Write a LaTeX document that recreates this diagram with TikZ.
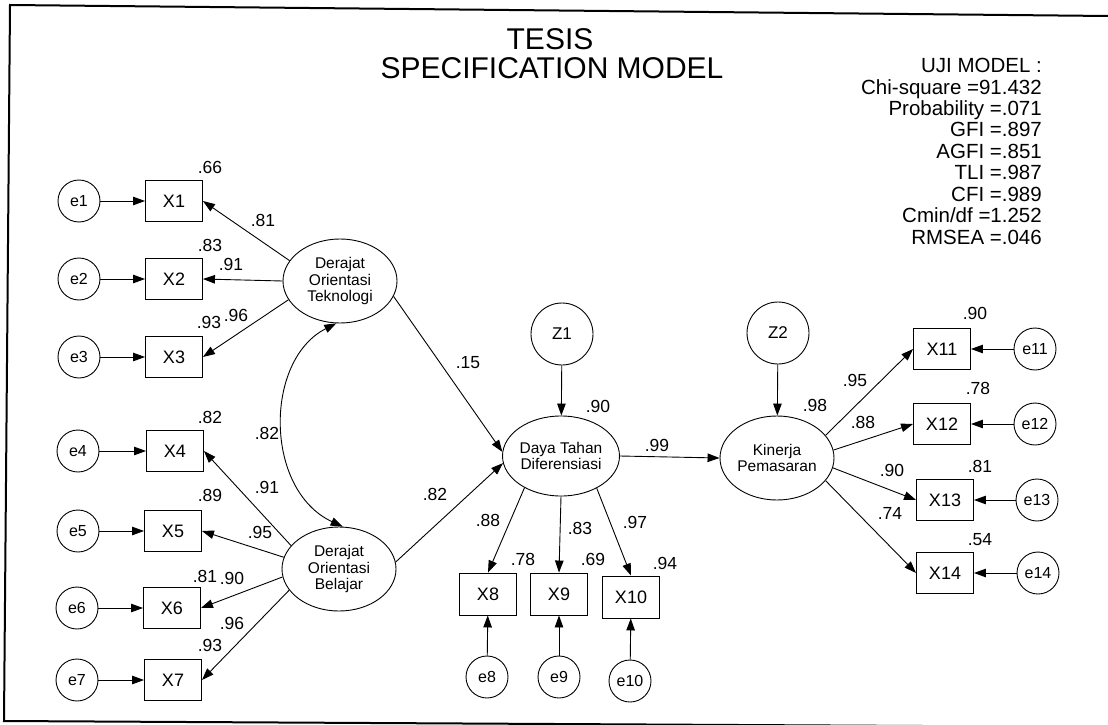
\documentclass[tikz,border=0pt]{standalone}
\usepackage{fontspec}
\setmainfont{Liberation Sans}
\usetikzlibrary{arrows.meta,shapes.geometric}
\begin{document}
\begin{tikzpicture}[x=1pt,y=-1pt,
  obs/.style={draw, line width=0.9pt, rectangle, minimum width=57pt, minimum height=41pt, inner sep=0pt, font=\fontsize{18}{20}\selectfont},
  err/.style={draw, line width=0.9pt, circle, minimum size=42pt, inner sep=0pt, font=\fontsize{16}{18}\selectfont},
  lat/.style={draw, line width=0.9pt, ellipse, minimum width=114pt, minimum height=84pt, inner sep=0pt, align=center, font=\fontsize{15.5}{16.5}\selectfont},
  dist/.style={draw, line width=0.9pt, circle, minimum size=62pt, inner sep=0pt, font=\fontsize{17}{19}\selectfont},
  coef/.style={inner sep=0pt, font=\fontsize{17.5}{19}\selectfont},
  stat/.style={inner sep=0pt, anchor=base east, font=\fontsize{20.5}{22}\selectfont},
  ttl/.style={inner sep=0pt, anchor=base, font=\fontsize{30}{32}\selectfont},
  arr/.style={line width=0.9pt, -{Triangle[length=12pt,width=8.5pt]}},
  darr/.style={line width=0.9pt, {Triangle[length=12pt,width=8.5pt]}-{Triangle[length=12pt,width=8.5pt]}}
]
\useasboundingbox (0,0) rectangle (1108,725);
% frame
\coordinate (fTR) at (1108,16);
\coordinate (fTL) at (10,5);
\coordinate (fBL) at (4,721);
\coordinate (fBR) at (1108,727);
\draw[line width=2pt] (fTR) -- (fTL) -- (fBL) -- (fBR);

% title
\node[ttl] (t1) at (550,49) {TESIS};
\node[ttl] (t2) at (552,78) {SPECIFICATION MODEL};

% stats
\node[stat] (s1) at (1042,72) {UJI MODEL :};
\node[stat] (s2) at (1042,94) {Chi-square =91.432};
\node[stat] (s3) at (1042,115) {Probability =.071};
\node[stat] (s4) at (1042,136) {GFI =.897};
\node[stat] (s5) at (1042,158) {AGFI =.851};
\node[stat] (s6) at (1042,179) {TLI =.987};
\node[stat] (s7) at (1042,201) {CFI =.989};
\node[stat] (s8) at (1042,222) {Cmin/df =1.252};
\node[stat] (s9) at (1042,244) {RMSEA =.046};

% left observed
\node[obs] (X1) at (174,201) {X1};
\node[obs] (X2) at (174,279) {X2};
\node[obs] (X3) at (174,357) {X3};
\node[obs] (X4) at (175,451) {X4};
\node[obs] (X5) at (173,531) {X5};
\node[obs] (X6) at (172,608) {X6};
\node[obs] (X7) at (173,680) {X7};
\node[err] (e1) at (79,201) {e1};
\node[err] (e2) at (79,279) {e2};
\node[err] (e3) at (79,357) {e3};
\node[err] (e4) at (78,451) {e4};
\node[err] (e5) at (78,531) {e5};
\node[err] (e6) at (77,608) {e6};
\node[err] (e7) at (77,680) {e7};

% latent
\node[lat] (Tek) at (340,281) {Derajat\\Orientasi\\Teknologi};
\node[lat] (Bel) at (339,569) {Derajat\\Orientasi\\Belajar};
\node[lat, minimum width=116pt, minimum height=80pt] (Daya) at (561,456) {Daya Tahan\\Diferensiasi};
\node[lat] (Kin) at (777,458) {Kinerja\\Pemasaran};
\node[dist] (Z1) at (562,334) {Z1};
\node[dist] (Z2) at (778,333) {Z2};

% center observed
\node[obs, minimum height=42pt] (X8) at (488,594) {X8};
\node[obs, minimum height=42pt] (X9) at (559,594) {X9};
\node[obs, minimum height=42pt] (X10) at (631,597) {X10};
\node[err] (e8) at (487,677) {e8};
\node[err] (e9) at (559,677) {e9};
\node[err] (e10) at (630,681) {e10};

% right observed
\node[obs] (X11) at (942,349) {X11};
\node[obs] (X12) at (942,424) {X12};
\node[obs] (X13) at (945,500) {X13};
\node[obs] (X14) at (945,573) {X14};
\node[err] (e11) at (1035,349) {e11};
\node[err] (e12) at (1035,424) {e12};
\node[err] (e13) at (1037,500) {e13};
\node[err] (e14) at (1038,573) {e14};

% error arrows
\foreach \i in {1,...,7} {\draw[arr] (e\i) -- (X\i);}
\foreach \i in {8,9,10} {\draw[arr] (e\i) -- (X\i);}
\foreach \i in {11,...,14} {\draw[arr] (e\i) -- (X\i);}

% loadings
\draw[arr] (Tek.158) -- (X1.east);
\draw[arr] (Tek.180) -- (X2.east);
\draw[arr] (Tek.200) -- (X3.east);
\draw[arr] (Bel.154) -- (X4.east);
\draw[arr] (Bel.168) -- (X5.east);
\draw[arr] (Bel.188) -- (X6.east);
\draw[arr] (Bel.203) -- (X7.east);
\draw[arr] (Daya.221) -- (X8.north);
\draw[arr] (Daya.270) -- (X9.north);
\draw[arr] (Daya.318) -- (X10.north);
\draw[arr] (Kin.25) -- (X11.west);
\draw[arr] (Kin.8) -- (X12.west);
\draw[arr] (Kin.-10) -- (X13.west);
\draw[arr] (Kin.-25) -- (X14.west);

% structural
\draw[arr] (Tek.-16) -- (Daya.176);
\draw[arr] (Bel.7) -- (Daya.187);
\draw[arr] (Daya.east) -- (Kin.west);
\draw[arr] (Z1) -- (Daya);
\draw[arr] (Z2) -- (Kin);
\draw[darr] (Tek.265) .. controls (264,360) and (264,490) .. (Bel.85);

% coefficients left
\node[coef] (c1) at (210,167) {.66};
\node[coef] (c2) at (263,220) {.81};
\node[coef] (c3) at (210,245) {.83};
\node[coef] (c4) at (231,264) {.91};
\node[coef] (c5) at (236,315) {.96};
\node[coef] (c6) at (209,322) {.93};
\node[coef] (c7) at (210,417) {.82};
\node[coef] (c8) at (267,433) {.82};
\node[coef] (c9) at (267,487) {.91};
\node[coef] (c10) at (210,495) {.89};
\node[coef] (c11) at (260,532) {.95};
\node[coef] (c12) at (232,578) {.90};
\node[coef] (c13) at (205,576) {.81};
\node[coef] (c14) at (232,623) {.96};
\node[coef] (c15) at (210,645) {.93};
% center
\node[coef] (c16) at (468,363) {.15};
\node[coef] (c17) at (598,406) {.90};
\node[coef] (c18) at (435,494) {.82};
\node[coef] (c19) at (657,445) {.99};
\node[coef] (c20) at (488,520) {.88};
\node[coef] (c21) at (580,528) {.83};
\node[coef] (c22) at (635,522) {.97};
\node[coef] (c23) at (523,559) {.78};
\node[coef] (c24) at (593,559) {.69};
\node[coef] (c25) at (665,563) {.94};
% right
\node[coef] (c26) at (815,405) {.98};
\node[coef] (c27) at (855,380) {.95};
\node[coef] (c28) at (863,422) {.88};
\node[coef] (c29) at (892,470) {.90};
\node[coef] (c30) at (890,513) {.74};
\node[coef] (c31) at (975,313) {.90};
\node[coef] (c32) at (978,388) {.78};
\node[coef] (c33) at (980,466) {.81};
\node[coef] (c34) at (980,540) {.54};
\end{tikzpicture}
\end{document}
